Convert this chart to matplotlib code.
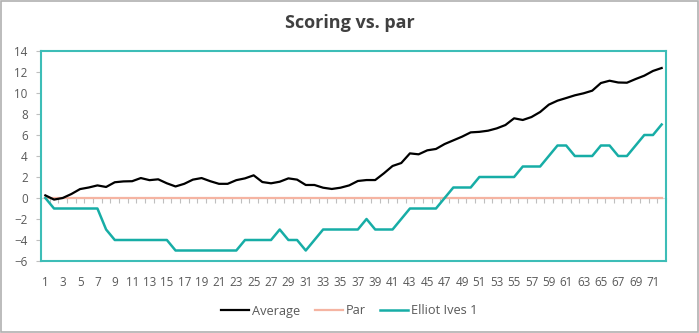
import matplotlib
matplotlib.use('Agg')
import matplotlib.pyplot as plt
from matplotlib.patches import Rectangle
import numpy as np

rounds = list(range(1, 73))
average = [0.25, -0.15, 0.0, 0.38, 0.85, 1.0, 1.2, 1.05, 1.5, 1.58,
           1.6, 1.9, 1.7, 1.78, 1.4, 1.1, 1.35, 1.75, 1.9, 1.6,
           1.35, 1.35, 1.7, 1.87, 2.16, 1.52, 1.4, 1.55, 1.87, 1.75,
           1.24, 1.24, 0.98, 0.86, 0.98, 1.2, 1.62, 1.71, 1.71, 2.35,
           3.05, 3.33, 4.25, 4.16, 4.54, 4.67, 5.14, 5.49, 5.84, 6.25,
           6.3, 6.41, 6.63, 6.95, 7.59, 7.43, 7.71, 8.19, 8.89, 9.27,
           9.52, 9.78, 9.97, 10.22, 10.95, 11.17, 11.0, 10.98, 11.33, 11.65,
           12.1, 12.38]
par = [0] * 72
elliot = [0, -1, -1, -1, -1, -1, -1, -3, -4, -4,
          -4, -4, -4, -4, -4, -5, -5, -5, -5, -5,
          -5, -5, -5, -4, -4, -4, -4, -3, -4, -4,
          -5, -4, -3, -3, -3, -3, -3, -2, -3, -3,
          -3, -2, -1, -1, -1, -1, 0, 1, 1, 1,
          2, 2, 2, 2, 2, 3, 3, 3, 4, 5,
          5, 4, 4, 4, 5, 5, 4, 4, 5, 6,
          6, 7]
x_labels = [str(r) for r in rounds[::2]]
y_ticks = list(range(-6, 15, 2))

TEAL = '#17ADA6'
TEAL_BORDER = '#3DBDB7'
SALMON = '#F5B4A2'
TXT = '#595959'
GRID_GRAY = '#BFBFBF'

plt.rcParams['font.family'] = ['Open Sans', 'DejaVu Sans']

fig = plt.figure(figsize=(6.99, 3.33), dpi=100)
ax = fig.add_axes([41 / 699, 1 - 261 / 333, 625 / 699, 210 / 333])

ax.plot(rounds, par, color=SALMON, lw=1.6, label='Par', zorder=2)
ax.plot(rounds, elliot, color=TEAL, lw=1.8, label='Elliot Ives 1', zorder=3)
ax.plot(rounds, average, color='black', lw=1.6, label='Average', zorder=4)

ax.set_xlim(0.5, 72.5)
ax.set_ylim(-6, 14)
ax.set_yticks(y_ticks)
ax.tick_params(axis='y', length=3.6, color=GRID_GRAY, labelcolor=TXT,
               labelsize=8.4, pad=6, width=0.8)

for s in ['left', 'top', 'right']:
    ax.spines[s].set_color(TEAL_BORDER)
    ax.spines[s].set_linewidth(1.5)
ax.spines['bottom'].set_position(('data', 0))
ax.spines['bottom'].set_color('#D9D9D9')
ax.spines['bottom'].set_linewidth(0.8)
ax.spines['bottom'].set_zorder(1)

ax.set_xticks([])
ax.set_xticks(np.arange(0.5, 73, 1), minor=True)
ax.tick_params(axis='x', which='minor', length=3.6, color=GRID_GRAY, width=0.8,
               labelbottom=False)

sec = ax.secondary_xaxis('bottom')
sec.set_xticks(rounds[::2])
sec.set_xticklabels(x_labels)
sec.tick_params(axis='x', length=0, pad=11, labelsize=8.4, labelcolor=TXT)
sec.spines['bottom'].set_color(TEAL_BORDER)
sec.spines['bottom'].set_linewidth(1.5)

fig.text(0.5, 1 - 23 / 333, 'Scoring vs. par', ha='center', va='center',
         fontsize=13, fontweight='bold', color='#404040')

handles, labels = ax.get_legend_handles_labels()
order = [2, 0, 1]
fig.legend([handles[i] for i in order], [labels[i] for i in order],
           loc='center', bbox_to_anchor=(0.5, 1 - 311 / 333), ncol=3,
           frameon=False, fontsize=9.2, handlelength=2.2, handletextpad=0.25,
           columnspacing=1.1, labelcolor=TXT)

fig.patches.append(Rectangle((0.001, 0.002), 0.997, 0.995, transform=fig.transFigure,
                             fill=False, edgecolor='#B0B0B0', lw=1.2))

fig.savefig('out.png', dpi=100)
